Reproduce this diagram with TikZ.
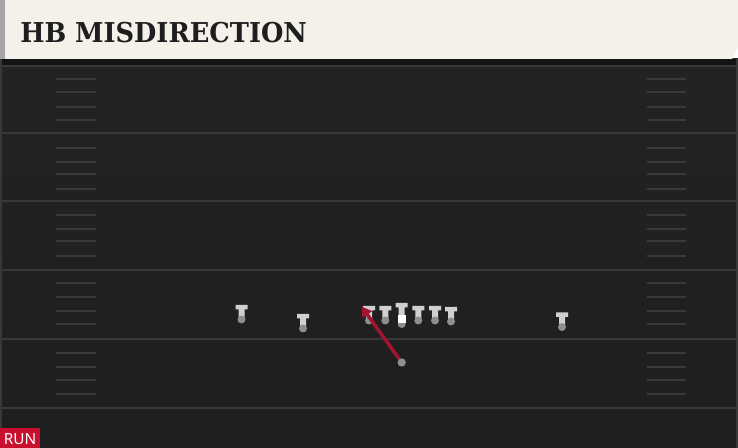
\documentclass[tikz,border=0pt]{standalone}
\usepackage{fontspec}
\usetikzlibrary{arrows.meta}
\newfontfamily\titlefont{DejaVu Serif}
\newfontfamily\tagfont{Noto Sans}

\definecolor{fieldtop}{HTML}{232323}
\definecolor{fieldbot}{HTML}{1E1E1E}
\definecolor{yardcol}{HTML}{383838}
\definecolor{hashcol}{HTML}{393939}
\definecolor{headcol}{HTML}{F4F1EA}
\definecolor{titlecol}{HTML}{1E1E1E}
\definecolor{tagred}{HTML}{C8102E}
\definecolor{routecol}{HTML}{A3152F}
\definecolor{tbodycol}{HTML}{D0D0D0}
\definecolor{tdotcol}{HTML}{8F8F8F}

\tikzset{
  yard/.style={draw=yardcol,line width=1.5pt},
  hash/.style={draw=hashcol,line width=1.5pt},
  tbody/.style={fill=tbodycol},
  dot/.style={circle,fill=tdotcol,minimum size=6pt,inner sep=0pt},
  route/.style={draw=routecol,line width=2.6pt,-{Triangle[length=7.5pt,width=8.5pt]}},
  tman/.pic={
    \path[tbody] (-6,-14.5) -- (6,-14.5) -- (6,-10) -- (3,-10) -- (3,-1)
      -- (-3,-1) -- (-3,-10) -- (-6,-10) -- cycle;
    \node[dot] (-q) at (0,0) {};
  },
  tcenter/.pic={
    \path[tbody] (-6,-21) -- (6,-21) -- (6,-16.5) -- (3,-16.5) -- (3,-9)
      -- (-3,-9) -- (-3,-16.5) -- (-6,-16.5) -- cycle;
    \node[dot] (-q) at (0,0) {};
    \fill[white] (-3.8,-9) rectangle (3.8,-1);
  }
}

\begin{document}
\begin{tikzpicture}[x=0.75pt,y=-0.75pt]
  \useasboundingbox (0,0) rectangle (738,448);

  % field
  \shade[top color=fieldtop,bottom color=fieldbot] (0,59) rectangle (738,448);
  \fill[black!92] (0,59) rectangle (738,65);
  \fill[yardcol] (0,59) rectangle (2,448);
  \fill[yardcol] (736,59) rectangle (738,448);
  \foreach \y in {66,133,201,270,339,408}
    \draw[yard] (2,\y) -- (736,\y);
  \foreach \y in {79,92,107,120,148,162,174,189,215,229,241,256,
                  283,297,311,324,353,367,380,394} {
    \draw[hash] (56,\y) -- (96,\y);
    \draw[hash] (647,\y) -- (686,\y);
  }

  % header
  \fill[headcol] (0,0) -- (738,0) -- (738,48) -- (732,59) -- (0,59) -- cycle;
  \fill[black!35] (0,0) rectangle (5,59);
  \node[anchor=base west,inner sep=0pt,text=titlecol,
    font=\titlefont\bfseries\fontsize{20.5pt}{20.5pt}\selectfont] (T) at (20,42.7)
    {\scalebox{0.94}[1]{HB MISDIRECTION}};

  % players
  \pic (LW) at (241.5,319.5) {tman};
  \pic (LS) at (303,328.5) {tman};
  \pic (LT) at (369,320.5) {tman};
  \pic (LG) at (385.3,320.5) {tman};
  \pic (C) at (401.7,324) {tcenter};
  \pic (RG) at (418.3,320.5) {tman};
  \pic (RT) at (435,320.5) {tman};
  \pic (TE) at (451,321.5) {tman};
  \pic (RW) at (562,327) {tman};

  % half back run
  \coordinate (R) at (361.5,306.5);
  \node[dot] (HB) at (401.7,362.5) {};
  \path[route] (HB) -- (R);
  \node[dot] at (HB) {};

  % tag
  \fill[tagred] (0,427.5) rectangle (40,448);
  \node[anchor=base west,inner sep=0pt,text=white,
    font=\tagfont\fontsize{11.5pt}{11.5pt}\selectfont] (RUN) at (3.5,444) {RUN};
\end{tikzpicture}
\end{document}
